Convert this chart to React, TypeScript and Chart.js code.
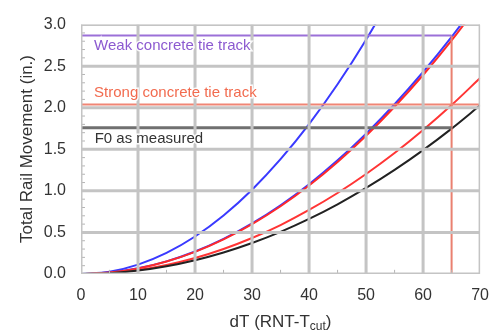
import React, { useEffect, useRef } from "react";
import Chart from "chart.js/auto";

// dT (RNT - Tcut) sample positions
const dT = [0, 5, 10, 15, 20, 25, 30, 35, 40, 45, 50, 55, 60, 65, 70];

// Curves (in.)
const blueSteep = [0, 0.028, 0.113, 0.254, 0.451, 0.704, 1.014, 1.381, 1.803, 2.282, 2.818, 3.41];
const blueMid = [0, 0.017, 0.068, 0.152, 0.27, 0.422, 0.608, 0.827, 1.08, 1.367, 1.688, 2.042, 2.43, 2.852, 3.31];
const redMid = [0, 0.017, 0.066, 0.15, 0.266, 0.416, 0.6, 0.815, 1.064, 1.347, 1.663, 2.012, 2.394, 2.81, 3.26];
const redLow = [0, 0.012, 0.048, 0.108, 0.192, 0.301, 0.433, 0.589, 0.77, 0.974, 1.203, 1.455, 1.732, 2.032, 2.357];
const blackLow = [0, 0.01, 0.041, 0.093, 0.166, 0.259, 0.373, 0.507, 0.662, 0.838, 1.035, 1.252, 1.49, 1.749, 2.029];

// Reference levels
const weakLevel = 2.87;
const strongLevel = 2.04;
const f0Level = 1.76;
const markerDT = 65;

const labelTexts = ["Weak concrete tie track", "Strong concrete tie track", "F0 as measured"];
const labelAt = [
  { x: 2.3, y: 2.75 },
  { x: 2.3, y: 2.18 },
  { x: 2.4, y: 1.62 },
];
const xTicks = [0, 10, 20, 30, 40, 50, 60, 70];
const yTicks = [0, 0.5, 1.0, 1.5, 2.0, 2.5, 3.0];
const xMinor = [5, 15, 25, 35, 45, 55, 65];
const yMinor = [0.1, 0.2, 0.3, 0.4, 0.6, 0.7, 0.8, 0.9, 1.1, 1.2, 1.3, 1.4, 1.6, 1.7, 1.8, 1.9, 2.1, 2.2, 2.3, 2.4, 2.6, 2.7, 2.8, 2.9];

const pts = (ys: number[]) => ys.map((y, i) => ({ x: dT[i], y }));

export default function App() {
  const ref = useRef<HTMLCanvasElement | null>(null);

  useEffect(() => {
    document.body.style.margin = "0";
    const canvas = ref.current;
    if (!canvas) return;

    const curve = (data: any, color: string) => ({
      data,
      borderColor: color,
      backgroundColor: color,
      borderWidth: 2,
      pointRadius: 0,
      showLine: true,
      cubicInterpolationMode: "monotone" as const,
      fill: false,
    });
    const level = (data: any, color: string, w: number) => ({
      data,
      borderColor: color,
      backgroundColor: color,
      borderWidth: w,
      pointRadius: 0,
      showLine: true,
      tension: 0,
      fill: false,
    });

    const gridSets: any[] = [];
    xTicks.forEach((v) => gridSets.push(level([{ x: v, y: 0 }, { x: v, y: 3 }], "#c4c4c4", 3)));
    yTicks.forEach((v) => gridSets.push(level([{ x: 0, y: v }, { x: 70, y: v }], "#c4c4c4", 3)));
    xTicks.forEach((v) => gridSets.push(level([{ x: v, y: 0 }, { x: v, y: 3 }], "#e4e4e4", 1)));
    yTicks.forEach((v) => gridSets.push(level([{ x: 0, y: v }, { x: 70, y: v }], "#e4e4e4", 1)));
    yMinor.forEach((v) => gridSets.push(level([{ x: 0, y: v }, { x: 0.7, y: v }], "#b4b4b4", 1)));
    xMinor.forEach((v) => gridSets.push(level([{ x: v, y: 0 }, { x: v, y: 0.05 }], "#b4b4b4", 1)));

    const overlay = {
      id: "overlay",
      afterDatasetsDraw(chart: any) {
        const ctx = chart.ctx;
        const xs = chart.scales.x;
        const ys = chart.scales.y;
        ctx.save();
        const colors = ["#8c5ad0", "#f26b4f", "#333333"];
        ctx.font = "15px 'Liberation Sans', Arial, sans-serif";
        ctx.textBaseline = "middle";
        ctx.textAlign = "left";
        labelTexts.forEach((t, i) => {
          const px = xs.getPixelForValue(labelAt[i].x);
          const py = ys.getPixelForValue(labelAt[i].y);
          ctx.lineWidth = 3;
          ctx.strokeStyle = "rgba(255,255,255,0.9)";
          ctx.strokeText(t, px, py);
          ctx.fillStyle = colors[i];
          ctx.fillText(t, px, py);
        });
        ctx.restore();
      },
      afterDraw(chart: any) {
        const ctx = chart.ctx;
        const xs = chart.scales.x;
        const left = xs.getPixelForValue(0);
        const right = xs.getPixelForValue(70);
        ctx.save();
        ctx.fillStyle = "#333333";
        ctx.font = "17px 'Liberation Sans', Arial, sans-serif";
        ctx.textAlign = "center";
        ctx.textBaseline = "middle";
        ctx.translate(27, 149);
        ctx.rotate(-Math.PI / 2);
        ctx.fillText("Total Rail Movement (in.)", 0, 0);
        ctx.restore();
        ctx.save();
        ctx.fillStyle = "#333333";
        ctx.textBaseline = "alphabetic";
        ctx.textAlign = "left";
        const main = "dT (RNT-T";
        const sub = "cut";
        const close = ")";
        const bigFont = "17px 'Liberation Sans', Arial, sans-serif";
        const smallFont = "12px 'Liberation Sans', Arial, sans-serif";
        ctx.font = bigFont;
        const w1 = ctx.measureText(main).width;
        const w3 = ctx.measureText(close).width;
        ctx.font = smallFont;
        const w2 = ctx.measureText(sub).width;
        const cx = (left + right) / 2;
        let x0 = cx - (w1 + w2 + w3) / 2;
        const base = 327;
        ctx.font = bigFont;
        ctx.fillText(main, x0, base);
        x0 += w1;
        ctx.font = smallFont;
        ctx.fillText(sub, x0, base + 3);
        x0 += w2;
        ctx.font = bigFont;
        ctx.fillText(close, x0, base);
        ctx.restore();
      },
    };

    const chart = new Chart(canvas, {
      type: "scatter",
      data: {
        datasets: [
          ...gridSets,
          level([{ x: 0, y: strongLevel }, { x: 70, y: strongLevel }], "#f08575", 2),
          level([{ x: 0, y: weakLevel }, { x: markerDT, y: weakLevel }], "#9b70d8", 2),
          level([{ x: 0, y: f0Level }, { x: markerDT, y: f0Level }], "#707070", 3),
          level([{ x: markerDT, y: 0 }, { x: markerDT, y: weakLevel }], "#ea8070", 2),
          curve(pts(blackLow), "#222222"),
          curve(pts(redLow), "#ff3535"),
          curve(pts(redMid), "#ff2a2a"),
          curve(pts(blueMid), "#3a3aff"),
          curve(pts(blueSteep), "#3a3aff"),
        ],
      },
      options: {
        animation: false,
        responsive: false,
        devicePixelRatio: 1,
        layout: { padding: { top: 13, right: 19, left: 0, bottom: 0 } },
        plugins: { legend: { display: false }, tooltip: { enabled: false } },
        scales: {
          x: {
            type: "linear",
            min: 0,
            max: 70,
            afterFit: (s: any) => {
              s.height = 58;
            },
            ticks: {
              stepSize: 10,
              font: { size: 16, family: "'Liberation Sans', Arial, sans-serif" },
              color: "#333333",
              padding: 12,
              maxRotation: 0,
            },
            grid: { display: false, drawTicks: false },
            border: { display: false },
          },
          y: {
            type: "linear",
            min: 0,
            max: 3,
            afterFit: (s: any) => {
              s.width = 81;
            },
            ticks: {
              stepSize: 0.5,
              font: { size: 16, family: "'Liberation Sans', Arial, sans-serif" },
              color: "#333333",
              padding: 15,
              callback: (v: any) => Number(v).toFixed(1),
            },
            grid: { display: false, drawTicks: false },
            border: { display: false },
          },
        },
      },
      plugins: [overlay],
    });
    return () => chart.destroy();
  }, []);

  return (
    <div style={{ position: "absolute", left: 0, top: 0, width: 501, height: 332 }}>
      <canvas ref={ref} width={501} height={332} style={{ width: 501, height: 332, display: "block" }} />
    </div>
  );
}
